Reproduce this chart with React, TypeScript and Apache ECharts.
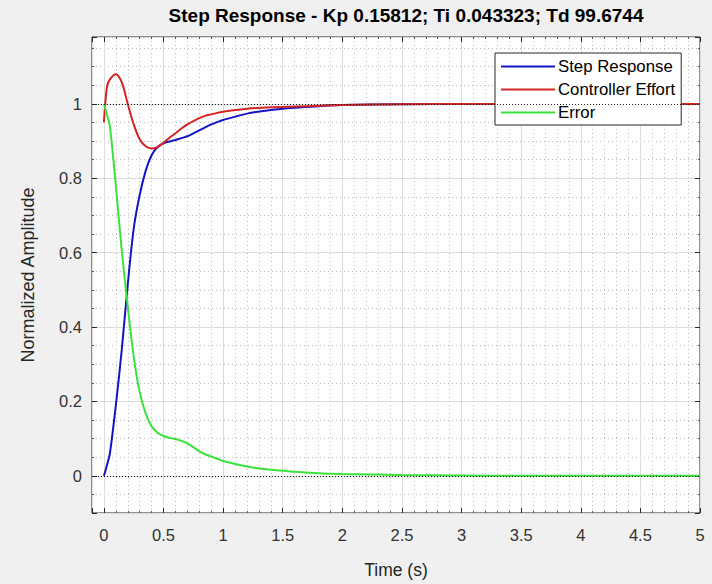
import React, { useEffect, useRef } from "react";
import * as echarts from "echarts";

const titleText = "Step Response - Kp 0.15812; Ti 0.043323; Td 99.6744";
const xAxisName = "Time (s)";
const yAxisName = "Normalized Amplitude";

const time = [0, 0.025, 0.05, 0.1, 0.15, 0.2, 0.25, 0.3, 0.35, 0.4, 0.45, 0.5, 0.55, 0.6, 0.65, 0.7, 0.75, 0.8, 0.85, 0.9, 0.95, 1.0, 1.2, 1.4, 1.6, 1.8, 2.0, 2.5, 3, 3.5, 4, 4.5, 5];
const stepResponse = [0, 0.028, 0.06, 0.19, 0.34, 0.515, 0.665, 0.755, 0.82, 0.862, 0.884, 0.894, 0.899, 0.903, 0.908, 0.913, 0.921, 0.929, 0.937, 0.945, 0.951, 0.957, 0.974, 0.984, 0.99, 0.994, 0.997, 0.999, 1, 1, 1, 1, 1];
const controllerEffort = [0.95, 1.045, 1.066, 1.08, 1.058, 1.0, 0.945, 0.905, 0.886, 0.88, 0.884, 0.896, 0.909, 0.921, 0.934, 0.945, 0.954, 0.962, 0.968, 0.972, 0.976, 0.979, 0.987, 0.991, 0.993, 0.995, 0.997, 0.999, 1, 1, 1, 1, 1];
const errorSignal = [1, 0.972, 0.94, 0.78, 0.605, 0.455, 0.32, 0.225, 0.168, 0.133, 0.116, 0.107, 0.102, 0.099, 0.094, 0.087, 0.077, 0.066, 0.058, 0.052, 0.046, 0.04, 0.025, 0.016, 0.011, 0.007, 0.005, 0.002, 0.001, 0, 0, 0, 0];
const refLevels = [0, 1];

const seriesNames = ["Step Response", "Controller Effort", "Error"];
const seriesColors = ["#1414c4", "#d42424", "#3ce23c"];

const xMin = -0.1, xMax = 5, xStep = 0.5;
const yMin = -0.1, yMax = 1.18, yStep = 0.2;

const onStep = (v: number, step: number) => Math.abs(v / step - Math.round(v / step)) < 1e-6;

export default function App() {
  const ref = useRef<HTMLDivElement>(null);
  useEffect(() => {
    if (!ref.current) return;
    const chart = echarts.init(ref.current, undefined, { renderer: "svg" });
    const font = "'Liberation Sans', Arial, sans-serif";
    const tickColor = "#262626";
    const pairs = (vals: number[]) => time.map((t, i) => [t, vals[i]]);
    const baseX = {
      type: "value",
      min: xMin,
      max: xMax,
      splitNumber: 10,
      minInterval: xStep,
      maxInterval: xStep,
      axisLine: { show: false, onZero: false },
      axisTick: { show: true, inside: true, length: 5, lineStyle: { color: tickColor } },
      minorTick: { show: true, splitNumber: 5, length: 2, lineStyle: { color: "#555" } },
    };
    const baseY = {
      type: "value",
      min: yMin,
      max: yMax,
      splitNumber: 6,
      minInterval: yStep,
      maxInterval: yStep,
      axisLine: { show: false, onZero: false },
      axisTick: { show: true, inside: true, length: 5, lineStyle: { color: tickColor } },
      minorTick: { show: true, splitNumber: 4, length: 2, lineStyle: { color: "#555" } },
    };
    const minorLine = { show: true, lineStyle: { color: "#bcbcbc", type: [1, 3], width: 1 } };
    const majorLine = { show: true, lineStyle: { color: "#dcdcdc", width: 1 } };
    chart.setOption({
      animation: false,
      backgroundColor: "#f0f0f0",
      textStyle: { fontFamily: font },
      graphic: [
        {
          type: "text",
          x: 406,
          y: 15,
          style: {
            text: titleText,
            font: `bold 19px ${font}`,
            fill: "#000",
            textAlign: "center",
            textVerticalAlign: "middle",
          },
        },
      ],
      grid: {
        left: 92,
        right: 12,
        top: 37,
        bottom: 67,
        show: true,
        backgroundColor: "#ffffff",
        borderColor: "#262626",
        borderWidth: 1,
      },
      legend: {
        data: seriesNames.map((n) => ({ name: n, icon: "rect" })),
        orient: "vertical",
        left: 495,
        top: 53,
        itemWidth: 54,
        itemHeight: 2,
        itemGap: 6,
        padding: [5, 6, 4, 6],
        backgroundColor: "#ffffff",
        borderColor: "#262626",
        borderWidth: 1,
        borderRadius: 0,
        textStyle: { fontSize: 16.8, color: "#000", fontFamily: font, padding: [0, 0, 0, -2] },
      },
      xAxis: [
        {
          ...baseX,
          position: "bottom",
          name: xAxisName,
          nameLocation: "middle",
          nameGap: 48,
          nameTextStyle: { fontSize: 17.5, color: tickColor, fontFamily: font },
          axisLabel: {
            show: true,
            margin: 13,
            fontSize: 16.5,
            color: "#333",
            fontFamily: font,
            formatter: (v: number) => (v >= 0 && onStep(v, xStep) ? String(v) : ""),
          },
          splitLine: majorLine,
          minorSplitLine: minorLine,
        },
        {
          ...baseX,
          position: "top",
          axisLabel: { show: false },
          splitLine: { show: false },
          minorSplitLine: { show: false },
        },
      ],
      yAxis: [
        {
          ...baseY,
          position: "left",
          name: yAxisName,
          nameLocation: "middle",
          nameGap: 55,
          nameTextStyle: { fontSize: 18, color: tickColor, fontFamily: font },
          axisLabel: {
            show: true,
            margin: 10,
            fontSize: 16.5,
            color: "#333",
            fontFamily: font,
            formatter: (v: number) => (v >= 0 && v <= 1 + 1e-9 && onStep(v, yStep) ? String(Math.round(v * 10) / 10) : ""),
          },
          splitLine: majorLine,
          minorSplitLine: minorLine,
        },
        {
          ...baseY,
          position: "right",
          axisLabel: { show: false },
          splitLine: { show: false },
          minorSplitLine: { show: false },
        },
      ],
      series: [
        {
          name: "ref",
          type: "line",
          data: [],
          z: 1,
          silent: true,
          markLine: {
            silent: true,
            symbol: "none",
            label: { show: false },
            lineStyle: { color: "#1a1a1a", type: [1, 2], width: 1 },
            data: refLevels.map((v) => ({ yAxis: v })),
          },
        },
        ...[stepResponse, controllerEffort, errorSignal].map((vals, i) => ({
          name: seriesNames[i],
          type: "line",
          data: pairs(vals),
          z: 3,
          showSymbol: false,
          symbol: "none",
          smooth: 0.3,
          color: seriesColors[i],
          lineStyle: { color: seriesColors[i], width: 2 },
        })),
      ],
    });
    return () => chart.dispose();
  }, []);
  return <div ref={ref} style={{ position: "fixed", left: 0, top: 0, width: 712, height: 584 }} />;
}
